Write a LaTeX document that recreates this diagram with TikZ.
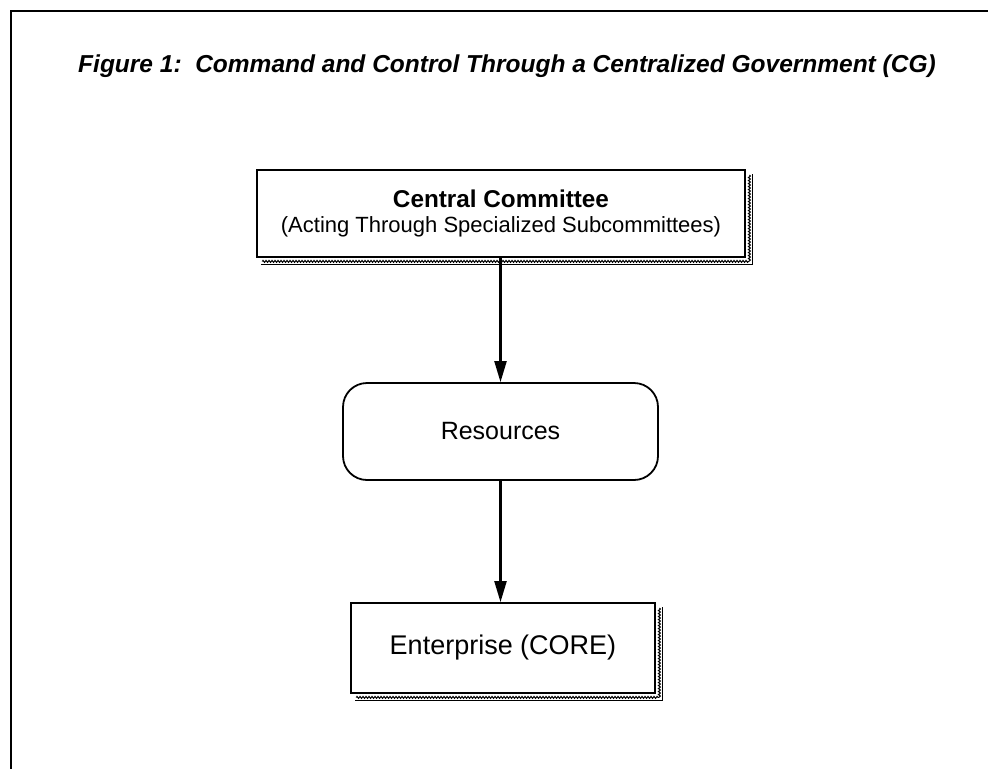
\documentclass[tikz,border=0pt]{standalone}
\usepackage{fontspec}
\setmainfont{Liberation Sans}
\usetikzlibrary{arrows.meta,decorations.pathmorphing}
\begin{document}
\begin{tikzpicture}[x=1pt,y=-1pt,
    plainbox/.style={draw,line width=1.8pt,fill=white,inner sep=0pt,align=center},
    roundbox/.style={plainbox,rounded corners=24pt},
    flow/.style={line width=2.2pt,-{Triangle[length=21pt,width=12pt]}},
    wavy/.style={line width=1pt,decorate,decoration={snake,amplitude=1pt,segment length=3pt}}]
      \useasboundingbox (0,0) rectangle (988,769);
      \draw[line width=1.8pt] (988,11) -- (11,11) -- (11,769);
      \node (title) at (507,66) {\bfseries\itshape\fontsize{24.5}{28}\selectfont Figure 1:~~Command and Control Through a Centralized Government (CG)};
      \node[plainbox,minimum width=488pt,minimum height=87pt,font=\fontsize{22}{25}\selectfont] (cc) at (501,213.5)
        {{\bfseries\fontsize{24.3}{25}\selectfont Central Committee}\\(Acting Through Specialized Subcommittees)};
      \node[roundbox,minimum width=315pt,minimum height=97pt] (res) at (500.5,431.5) {\fontsize{25}{28}\selectfont Resources};
      \node[plainbox,minimum width=304pt,minimum height=90pt] (ent) at (503,648) {\fontsize{27}{30}\selectfont Enterprise (CORE)};
      % shadows
      \foreach \n in {cc,ent} {
        \draw[line width=1.3pt] ([shift={(6.5pt,-5pt)}]\n.north east) -- ([shift={(6.5pt,-6.5pt)}]\n.south east) -- ([shift={(5pt,-6.5pt)}]\n.south west);
        \draw[wavy] ([shift={(3.5pt,-6pt)}]\n.north east) -- ([shift={(3.5pt,-3.5pt)}]\n.south east);
        \draw[wavy] ([shift={(6pt,-3.5pt)}]\n.south west) -- ([shift={(3.5pt,-3.5pt)}]\n.south east);
      }
      \draw[flow] (cc.south -| res.north) -- (res.north);
      \draw[flow] (res.south) -- (res.south |- ent.north);
    \end{tikzpicture}
\end{document}
